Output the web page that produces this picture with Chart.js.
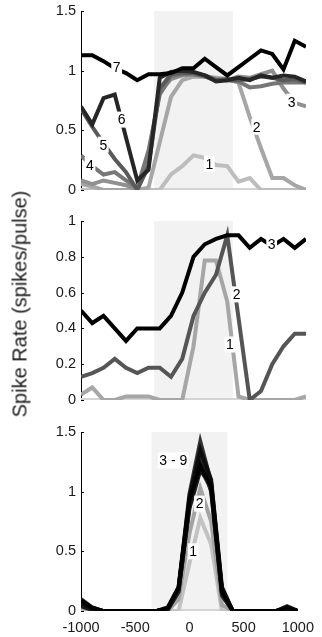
<!DOCTYPE html>
<html>
<head>
<meta charset="utf-8">
<script src="https://cdn.jsdelivr.net/npm/chart.js@4"></script>
<style>
  html, body { margin: 0; padding: 0; background: #fff; }
  body { width: 322px; height: 637px; position: relative; overflow: hidden; }
  canvas { position: absolute; left: 0; }
  .ytitle {
    position: absolute; left: 20px; top: 304px;
    transform: translate(-50%, -50%) rotate(-90deg);
    font: 20px "Liberation Sans", Arial, sans-serif; color: #1a1a1a; white-space: nowrap;
  }
</style>
</head>
<body>
<canvas id="panel1" width="322" height="200" style="top:0"></canvas>
<canvas id="panel2" width="322" height="210" style="top:200px"></canvas>
<canvas id="panel3" width="322" height="227" style="top:410px"></canvas>
<div class="ytitle">Spike Rate (spikes/pulse)</div>
<script>
// time bins (ms), shared by all panels
const times = [-1000, -900, -800, -700, -600, -500, -400, -300, -200, -100, 0, 100, 200, 300, 400, 500, 600, 700, 800, 900, 1000];
const xTicks = [-1000, -500, 0, 500, 1000];
const stimWindow = [-350, 350];
const zeros = times.map(() => 0);

// Panel 1
const p1s1 = [0, 0, 0, 0, 0, 0, 0, 0, 0.13, 0.2, 0.29, 0.27, 0.21, 0.2, 0.07, 0.1, 0, 0, 0, 0, 0];
const p1s2 = [0.05, 0.03, 0, 0, 0, 0, 0.02, 0.4, 0.78, 0.92, 0.95, 0.95, 0.94, 0.93, 0.9, 0.61, 0.35, 0.1, 0.1, 0.04, 0];
const p1s3 = [0.08, 0.05, 0.08, 0.06, 0.04, 0, 0.3, 0.82, 0.93, 0.96, 0.97, 0.96, 0.93, 0.92, 0.95, 0.94, 0.97, 1.0, 0.85, 0.73, 0.7];
const p1s4 = [0.29, 0.2, 0.13, 0.15, 0.08, 0.02, 0.33, 0.8, 0.95, 0.97, 0.97, 0.95, 0.92, 0.92, 0.91, 0.86, 0.87, 0.89, 0.9, 0.9, 0.9];
const p1s5 = [0.68, 0.53, 0.39, 0.26, 0.15, 0, 0.2, 0.85, 0.97, 0.98, 0.98, 0.96, 0.92, 0.93, 0.92, 0.93, 0.95, 0.94, 0.92, 0.93, 0.9];
const p1s6 = [0.7, 0.55, 0.77, 0.8, 0.44, 0.08, 0.17, 0.94, 0.99, 1.0, 0.99, 0.96, 0.91, 0.92, 0.94, 0.92, 0.96, 0.94, 0.96, 0.95, 0.91];
const p1s7 = [1.13, 1.13, 1.08, 1.02, 0.98, 0.92, 0.97, 0.97, 0.98, 1.02, 1.02, 1.1, 1.03, 0.96, 1.03, 1.1, 1.17, 1.14, 1.01, 1.25, 1.2];
const p1Colors = ['#d4d4d4', '#bdbdbd', '#a6a6a6', '#909090', '#777777', '#5a5a5a', '#262626', '#000000'];
const p1LabelText = ['1', '2', '3', '4', '5', '6', '7'];
const p1LabelX = [141, 562, 873, -920, -802, -638, -683];
const p1LabelY = [0.22, 0.53, 0.74, 0.21, 0.38, 0.59, 1.03];

// Panel 2
const p2s1 = [0.03, 0.07, 0, 0, 0.02, 0.02, 0.02, 0, 0, 0, 0.3, 0.78, 0.78, 0.55, 0.02, 0, 0, 0, 0, 0, 0.02];
const p2s2 = [0.13, 0.15, 0.18, 0.23, 0.18, 0.15, 0.18, 0.18, 0.13, 0.23, 0.47, 0.6, 0.7, 0.92, 0.46, 0, 0.05, 0.2, 0.3, 0.37, 0.37];
const p2s3 = [0.5, 0.43, 0.47, 0.4, 0.33, 0.4, 0.4, 0.4, 0.47, 0.6, 0.8, 0.87, 0.9, 0.92, 0.92, 0.85, 0.9, 0.86, 0.9, 0.85, 0.9];
const p2Colors = ['#d4d4d4', '#a6a6a6', '#555555', '#000000'];
const p2LabelText = ['1', '2', '3'];
const p2LabelX = [324, 384, 695];
const p2LabelY = [0.31, 0.59, 0.87];

// Panel 3
const p3s1 = [0, 0, 0, 0, 0, 0, 0, 0, 0, 0, 0.4, 0.78, 0.56, 0, 0, 0, 0, 0, 0, 0, 0];
const p3s2 = [0.03, 0, 0, 0, 0, 0, 0, 0, 0, 0.1, 0.65, 1.03, 0.75, 0.05, 0, 0, 0, 0, 0, 0, 0];
const p3s3 = [0.06, 0.02, 0, 0, 0, 0, 0, 0, 0.02, 0.18, 0.92, 1.2, 1.02, 0.14, 0, 0, 0, 0, 0, 0, 0];
const p3s4 = [0.08, 0.01, 0, 0, 0, 0, 0, 0, 0.01, 0.17, 0.88, 1.24, 1.05, 0.15, 0, 0, 0, 0, 0, 0.02, 0];
const p3s5 = [0.1, 0.03, 0, 0, 0, 0, 0, 0, 0.02, 0.2, 0.98, 1.42, 1.08, 0.18, 0, 0, 0, 0, 0, 0, 0];
const p3s6 = [0.05, 0.02, 0, 0, 0, 0, 0, 0, 0.01, 0.16, 0.9, 1.3, 1.0, 0.13, 0, 0, 0, 0, 0, 0.04, 0];
const p3s7 = [0.04, 0.01, 0, 0, 0, 0, 0, 0, 0.02, 0.18, 0.86, 1.18, 1.06, 0.17, 0, 0, 0, 0, 0, 0, 0];
const p3s8 = [0.07, 0.02, 0, 0, 0, 0, 0, 0, 0.02, 0.19, 0.95, 1.35, 1.1, 0.2, 0, 0, 0, 0, 0, 0.01, 0];
const p3s9 = [0.09, 0.03, 0, 0, 0, 0, 0, 0, 0.03, 0.2, 0.93, 1.22, 1.04, 0.16, 0, 0, 0, 0, 0, 0.03, 0];
const p3Colors = ['#d4d4d4', '#c2c2c2', '#a3a3a3', '#4d4d4d', '#404040', '#333333', '#262626', '#1a1a1a', '#0d0d0d', '#000000'];
const p3LabelText = ['1', '2', '3 - 9'];
const p3LabelX = [34, 93, -149];
const p3LabelY = [0.5, 0.9, 1.26];

const FONT = '"Liberation Sans", Arial, sans-serif';

// gray stimulus window behind the traces
const stimPlugin = {
  id: 'stim',
  beforeDatasetsDraw(chart) {
    const { ctx, chartArea, scales } = chart;
    const x0 = scales.x.getPixelForValue(stimWindow[0]);
    const x1 = scales.x.getPixelForValue(stimWindow[1]);
    ctx.save();
    ctx.fillStyle = '#f2f2f2';
    ctx.fillRect(x0, chartArea.top, x1 - x0, chartArea.bottom - chartArea.top);
    ctx.restore();
  }
};

// numbered labels with white boxes, plus inward y ticks
const labelPlugin = {
  id: 'lineLabels',
  afterDatasetsDraw(chart, args, opts) {
    const { ctx, scales, chartArea } = chart;
    ctx.save();
    ctx.font = '14px ' + FONT;
    ctx.textAlign = 'center';
    ctx.textBaseline = 'middle';
    opts.text.forEach((t, i) => {
      const px = scales.x.getPixelForValue(opts.x[i]);
      const py = scales.y.getPixelForValue(opts.y[i]);
      const w = ctx.measureText(t).width + 3;
      ctx.fillStyle = '#fff';
      ctx.fillRect(px - w / 2, py - 8, w, 16);
      ctx.fillStyle = '#000';
      ctx.fillText(t, px, py + 1);
    });
    ctx.strokeStyle = '#000';
    ctx.lineWidth = 1;
    scales.y.ticks.forEach(tk => {
      const py = Math.round(scales.y.getPixelForValue(tk.value)) + 0.5;
      ctx.beginPath();
      ctx.moveTo(chartArea.left, py);
      ctx.lineTo(chartArea.left + 3, py);
      ctx.stroke();
    });
    ctx.restore();
  }
};

function makePanel(id, series, colors, yMax, yStep, labels, showX, padTop, padBottom) {
  // darkest trace first so it ends up drawn on top
  const datasets = series.map((s, i) => ({
    data: s.map((v, j) => ({ x: times[j], y: v })),
    borderColor: colors[i],
    borderWidth: 4,
    pointRadius: 0,
    tension: 0,
    fill: false
  })).reverse();

  new Chart(document.getElementById(id), {
    type: 'line',
    data: { datasets: datasets },
    plugins: [stimPlugin, labelPlugin],
    options: {
      responsive: false,
      animation: false,
      layout: { padding: { left: 0, right: 16, top: padTop, bottom: padBottom } },
      plugins: {
        legend: { display: false },
        tooltip: { enabled: false },
        lineLabels: labels
      },
      scales: {
        x: {
          type: 'linear',
          min: -1000,
          max: 1000,
          display: showX,
          afterBuildTicks: s => { s.ticks = xTicks.map(v => ({ value: v })); },
          afterFit: s => { s.height = showX ? 26 : 0; },
          grid: { display: false, drawTicks: false },
          border: { display: false },
          ticks: {
            autoSkip: false,
            maxRotation: 0,
            padding: 8,
            color: '#1a1a1a',
            font: { family: FONT, size: 14.5 },
            callback: v => String(v)
          }
        },
        y: {
          min: 0,
          max: yMax,
          // fixed width, and no extra room for the end labels
          afterFit: s => { s.width = 81; s.paddingTop = 0; s.paddingBottom = 0; },
          grid: { display: false, drawTicks: false },
          border: { display: true, color: '#000', width: 1 },
          ticks: {
            stepSize: yStep,
            padding: 5,
            color: '#1a1a1a',
            font: { family: FONT, size: 14.5 },
            callback: v => String(Math.round(v * 10) / 10)
          }
        }
      }
    }
  });
}

makePanel('panel1', [zeros, p1s1, p1s2, p1s3, p1s4, p1s5, p1s6, p1s7], p1Colors, 1.5, 0.5,
  { text: p1LabelText, x: p1LabelX, y: p1LabelY }, false, 11, 10);
makePanel('panel2', [zeros, p2s1, p2s2, p2s3], p2Colors, 1, 0.2,
  { text: p2LabelText, x: p2LabelX, y: p2LabelY }, false, 21, 10);
makePanel('panel3', [zeros, p3s1, p3s2, p3s3, p3s4, p3s5, p3s6, p3s7, p3s8, p3s9], p3Colors, 1.5, 0.5,
  { text: p3LabelText, x: p3LabelX, y: p3LabelY }, true, 22, 0);
</script>
</body>
</html>
